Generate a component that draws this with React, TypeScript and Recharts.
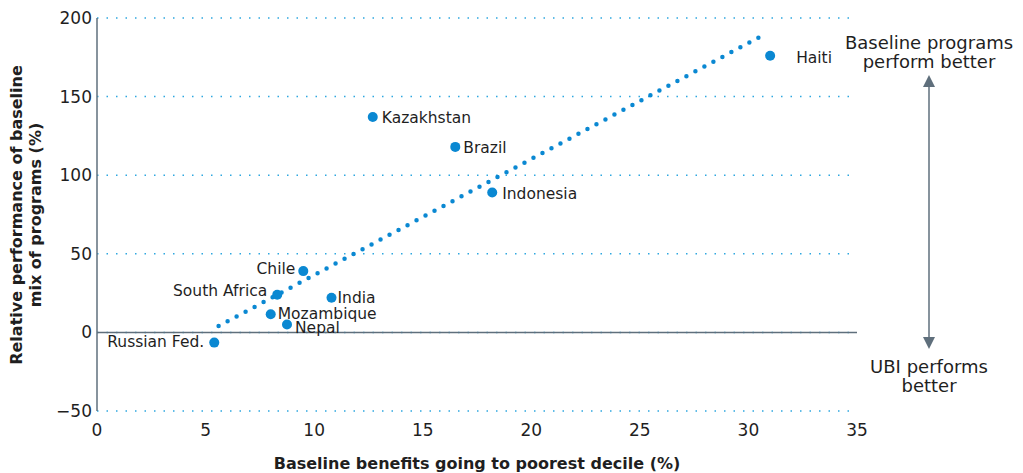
import { ScatterChart, Scatter, XAxis, YAxis, CartesianGrid, ReferenceLine } from "recharts";

const countries = [
  "Haiti",
  "Kazakhstan",
  "Brazil",
  "Indonesia",
  "Chile",
  "South Africa",
  "India",
  "Mozambique",
  "Nepal",
  "Russian Fed.",
];
const poorestDecileShare = [31.0, 12.7, 16.5, 18.2, 9.5, 8.3, 10.8, 8.0, 8.75, 5.4];
const relativePerformance = [176, 137, 118, 89, 39, 24, 22, 11.5, 5, -6.5];

const xTicks = [0, 5, 10, 15, 20, 25, 30, 35];
const yTicks = [-50, 0, 50, 100, 150, 200];

const trendX = [5.6, 30.8];
const trendY = [4, 190];

const points = countries.map((name, i) => ({
  name,
  x: poorestDecileShare[i],
  y: relativePerformance[i],
}));

const trend = trendX.map((x, i) => ({ x, y: trendY[i] }));

// where each country label sits relative to its dot
const labelOffset: Record<string, [number, number, "start" | "end"]> = {
  Haiti: [26, 2, "start"],
  Kazakhstan: [9, 1, "start"],
  Brazil: [8, 1, "start"],
  Indonesia: [10, 1, "start"],
  Chile: [-8, -3, "end"],
  "South Africa": [-10, -4, "end"],
  India: [6, 0, "start"],
  Mozambique: [7, -1, "start"],
  Nepal: [8, 3, "start"],
  "Russian Fed.": [-10, -1, "end"],
};

const BLUE = "#0a88d2";
const GREY = "#5f6f7c";
const TEXT = "#1f1f1f";
const FONT = "'DejaVu Sans', 'Open Sans', sans-serif";

const minus = (v: number) => String(v).replace("-", "\u2212");

function Dot(props: any) {
  const { cx, cy, payload } = props;
  const [dx, dy, anchor] = labelOffset[payload.name] || [8, 0, "start"];
  return (
    <g>
      <circle cx={cx} cy={cy} r={5} fill={BLUE} />
      <text
        x={cx + dx}
        y={cy + dy}
        dy="0.35em"
        textAnchor={anchor}
        fontSize={15.5}
        fill={TEXT}
        fontFamily={FONT}
      >
        {payload.name}
      </text>
    </g>
  );
}

export default function App() {
  return (
    <div style={{ position: "relative", width: 1007, height: 465, fontFamily: FONT }}>
      <ScatterChart
        width={1007}
        height={465}
        margin={{ top: 10, right: 158, bottom: 0, left: 0 }}
      >
        <CartesianGrid
          vertical={false}
          stroke="#2ea7e0"
          strokeDasharray="1.5 8"
          strokeWidth={1.5}
        />
        <XAxis
          type="number"
          dataKey="x"
          domain={[0, 35]}
          ticks={xTicks}
          axisLine={false}
          tickLine={false}
          tickSize={0}
          tickMargin={13}
          height={62}
          tick={{ fill: TEXT, fontSize: 17, fontFamily: FONT }}
        />
        <YAxis
          type="number"
          dataKey="y"
          domain={[-50, 200]}
          ticks={yTicks}
          tickFormatter={minus}
          width={89}
          axisLine={{ stroke: GREY, strokeWidth: 1.5 }}
          tickLine={false}
          tickSize={0}
          tickMargin={5}
          tick={{ fill: TEXT, fontSize: 17, fontFamily: FONT }}
        />
        <ReferenceLine y={0} stroke={GREY} strokeWidth={1.5} />
        <ReferenceLine
          segment={trend}
          stroke={BLUE}
          strokeWidth={4.5}
          strokeDasharray="0 10.2"
          strokeLinecap="round"
        />
        <Scatter data={points} shape={Dot} isAnimationActive={false} />
      </ScatterChart>

      <svg
        width={1007}
        height={465}
        style={{ position: "absolute", left: 0, top: 0, pointerEvents: "none" }}
      >
        <text
          transform="translate(8,207) rotate(-90)"
          textAnchor="middle"
          fontSize={16}
          fontWeight={700}
          fill={TEXT}
          fontFamily={FONT}
        >
          <tspan x={0} y={6}>Relative performance of baseline</tspan>
          <tspan x={0} y={25}>mix of programs (%)</tspan>
        </text>
        <text
          x={469}
          y={461}
          textAnchor="middle"
          fontSize={16}
          fontWeight={700}
          fill={TEXT}
          fontFamily={FONT}
        >
          Baseline benefits going to poorest decile (%)
        </text>

        <line x1={921} y1={76} x2={921} y2={332} stroke={GREY} strokeWidth={1.5} />
        <polygon points="921,67 915,79 927,79" fill={GREY} />
        <polygon points="921,341 915,329 927,329" fill={GREY} />

        <text textAnchor="middle" fontSize={18} fill={TEXT} fontFamily={FONT}>
          <tspan x={921} y={41}>Baseline programs</tspan>
          <tspan x={921} y={60}>perform better</tspan>
        </text>
        <text textAnchor="middle" fontSize={18} fill={TEXT} fontFamily={FONT}>
          <tspan x={921} y={365}>UBI performs</tspan>
          <tspan x={921} y={384}>better</tspan>
        </text>
      </svg>
    </div>
  );
}
